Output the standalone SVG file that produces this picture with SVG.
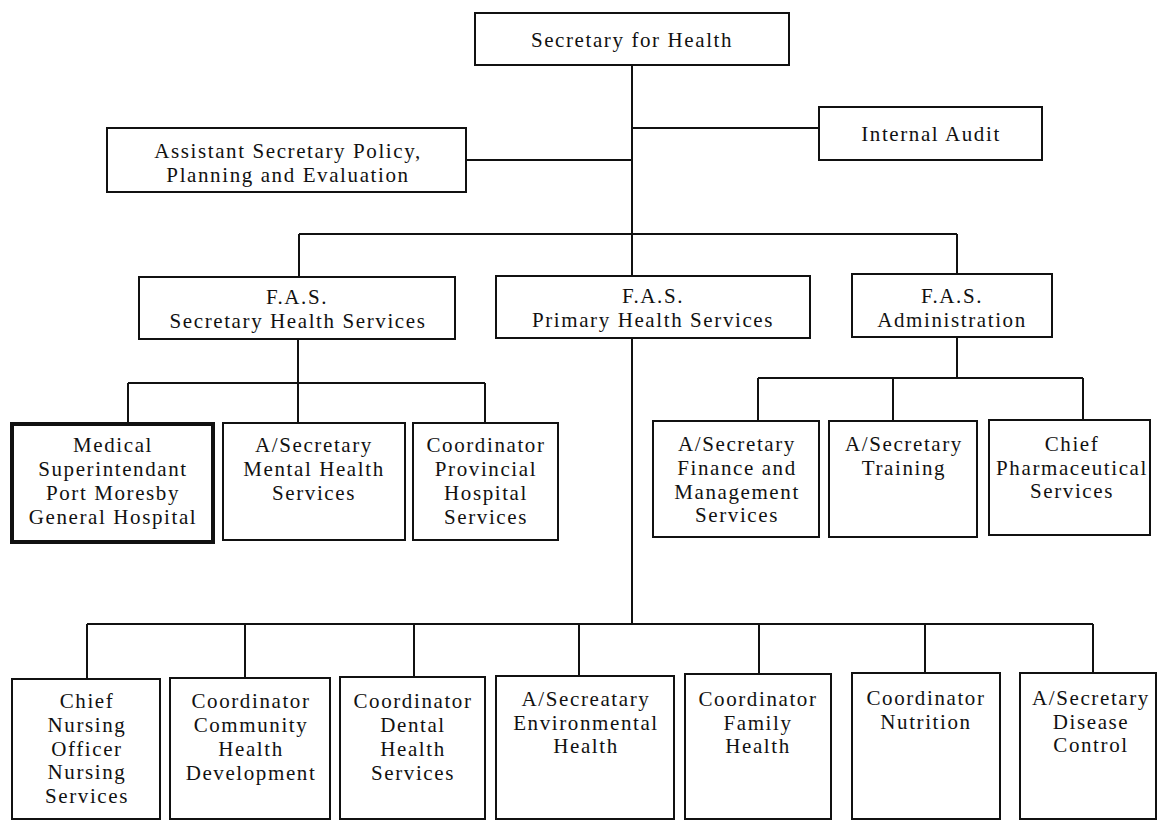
<svg xmlns="http://www.w3.org/2000/svg" width="1159" height="822" viewBox="0 0 1159 822">
  <style>
    .box { fill: #ffffff; stroke: #111111; stroke-width: 2; }
    .thick { stroke-width: 4; }
    .wire { fill: none; stroke: #111111; stroke-width: 2; }
    .lbl { font-family: "Liberation Serif", "Times New Roman", serif; font-size: 21px; letter-spacing: 1.6px; text-anchor: middle; fill: #111111; }
  </style>
  <rect width="1159" height="822" fill="#ffffff"/>

  <!-- reporting lines -->
  <g id="connectors">
    <path class="wire" d="M632 65 V276 M632 338 V624"/>
    <path class="wire" d="M632 128 H819"/>
    <path class="wire" d="M466 160 H632"/>
    <path class="wire" d="M299 234 H957 M299 234 V277 M957 234 V274"/>
    <path class="wire" d="M298 339 V383 M128 383 H485 M128 383 V424 M298 383 V423 M485 383 V423"/>
    <path class="wire" d="M957 337 V378 M758 378 H1083 M758 378 V421 M893 378 V421 M1083 378 V420"/>
    <path class="wire" d="M87 624 H1093 M87 624 V679 M245 624 V678 M414 624 V677 M579 624 V676 M759 624 V674 M925 624 V673 M1093 624 V673"/>
  </g>

  <g id="secretary">
    <rect class="box" x="475" y="13" width="314" height="52"/>
    <text class="lbl" x="632" y="47">Secretary for Health</text>
  </g>
  <g id="internal-audit">
    <rect class="box" x="819" y="107" width="223" height="53"/>
    <text class="lbl" x="931" y="141">Internal Audit</text>
  </g>
  <g id="assistant-secretary">
    <rect class="box" x="107" y="128" width="359" height="64"/>
    <text class="lbl" x="288" y="158">Assistant Secretary Policy,</text>
    <text class="lbl" x="288" y="182">Planning and Evaluation</text>
  </g>

  <g id="fas-secretary-health">
    <rect class="box" x="139" y="277" width="316" height="62"/>
    <text class="lbl" x="297" y="304">F.A.S.</text>
    <text class="lbl" x="298" y="328">Secretary Health Services</text>
  </g>
  <g id="fas-primary-health">
    <rect class="box" x="496" y="276" width="314" height="62"/>
    <text class="lbl" x="653" y="303">F.A.S.</text>
    <text class="lbl" x="653" y="327">Primary Health Services</text>
  </g>
  <g id="fas-administration">
    <rect class="box" x="852" y="274" width="200" height="63"/>
    <text class="lbl" x="952" y="303">F.A.S.</text>
    <text class="lbl" x="952" y="327">Administration</text>
  </g>

  <g id="medical-superintendant">
    <rect class="box thick" x="12" y="424" width="201" height="118"/>
    <text class="lbl" x="113" y="452">Medical</text>
    <text class="lbl" x="113" y="476">Superintendant</text>
    <text class="lbl" x="113" y="500">Port Moresby</text>
    <text class="lbl" x="113" y="524">General Hospital</text>
  </g>
  <g id="mental-health">
    <rect class="box" x="223" y="423" width="182" height="117"/>
    <text class="lbl" x="314" y="452">A/Secretary</text>
    <text class="lbl" x="314" y="476">Mental Health</text>
    <text class="lbl" x="314" y="500">Services</text>
  </g>
  <g id="provincial-hospital">
    <rect class="box" x="413" y="423" width="145" height="117"/>
    <text class="lbl" x="486" y="452">Coordinator</text>
    <text class="lbl" x="486" y="476">Provincial</text>
    <text class="lbl" x="486" y="500">Hospital</text>
    <text class="lbl" x="486" y="524">Services</text>
  </g>

  <g id="finance-management">
    <rect class="box" x="653" y="421" width="166" height="116"/>
    <text class="lbl" x="737" y="451">A/Secretary</text>
    <text class="lbl" x="737" y="475">Finance and</text>
    <text class="lbl" x="737" y="499">Management</text>
    <text class="lbl" x="737" y="522">Services</text>
  </g>
  <g id="training">
    <rect class="box" x="829" y="421" width="148" height="116"/>
    <text class="lbl" x="904" y="451">A/Secretary</text>
    <text class="lbl" x="904" y="475">Training</text>
  </g>
  <g id="pharmaceutical">
    <rect class="box" x="989" y="420" width="161" height="115"/>
    <text class="lbl" x="1072" y="451">Chief</text>
    <text class="lbl" x="1072" y="475">Pharmaceutical</text>
    <text class="lbl" x="1072" y="498">Services</text>
  </g>

  <g id="nursing">
    <rect class="box" x="12" y="679" width="148" height="140"/>
    <text class="lbl" x="87" y="708">Chief</text>
    <text class="lbl" x="87" y="732">Nursing</text>
    <text class="lbl" x="87" y="756">Officer</text>
    <text class="lbl" x="87" y="779">Nursing</text>
    <text class="lbl" x="87" y="803">Services</text>
  </g>
  <g id="community-health">
    <rect class="box" x="170" y="678" width="160" height="141"/>
    <text class="lbl" x="251" y="708">Coordinator</text>
    <text class="lbl" x="251" y="732">Community</text>
    <text class="lbl" x="251" y="756">Health</text>
    <text class="lbl" x="251" y="780">Development</text>
  </g>
  <g id="dental-health">
    <rect class="box" x="340" y="677" width="145" height="142"/>
    <text class="lbl" x="413" y="708">Coordinator</text>
    <text class="lbl" x="413" y="732">Dental</text>
    <text class="lbl" x="413" y="756">Health</text>
    <text class="lbl" x="413" y="780">Services</text>
  </g>
  <g id="environmental-health">
    <rect class="box" x="496" y="676" width="178" height="143"/>
    <text class="lbl" x="586" y="706">A/Secreatary</text>
    <text class="lbl" x="586" y="730">Environmental</text>
    <text class="lbl" x="586" y="753">Health</text>
  </g>
  <g id="family-health">
    <rect class="box" x="685" y="674" width="146" height="145"/>
    <text class="lbl" x="758" y="706">Coordinator</text>
    <text class="lbl" x="758" y="730">Family</text>
    <text class="lbl" x="758" y="753">Health</text>
  </g>
  <g id="nutrition">
    <rect class="box" x="852" y="673" width="148" height="146"/>
    <text class="lbl" x="926" y="705">Coordinator</text>
    <text class="lbl" x="926" y="729">Nutrition</text>
  </g>
  <g id="disease-control">
    <rect class="box" x="1020" y="673" width="136" height="146"/>
    <text class="lbl" x="1091" y="705">A/Secretary</text>
    <text class="lbl" x="1091" y="729">Disease</text>
    <text class="lbl" x="1091" y="752">Control</text>
  </g>
</svg>
